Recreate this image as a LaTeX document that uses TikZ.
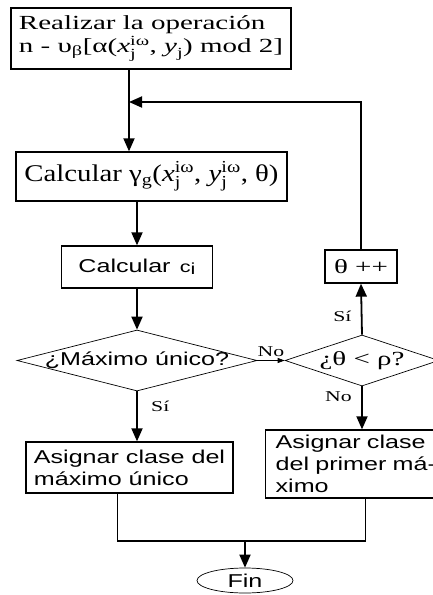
\documentclass[tikz,border=0pt]{standalone}
\usepackage{amsmath}
\usepackage{fontspec}
\newfontfamily\serifw{Liberation Serif}[FakeStretch=1.45]
\newfontfamily\serifm{Liberation Serif}[FakeStretch=1.2]
\newfontfamily\sansw{Liberation Sans}[FakeStretch=1.35]
\usetikzlibrary{arrows.meta,positioning,shapes.geometric}

\begin{document}
\begin{tikzpicture}[x=1pt,y=-1pt,>={Triangle[length=13pt,width=11pt]}]
  \tikzstyle{box}=[draw,line width=1.3pt,inner sep=0pt,align=left]
  \tikzstyle{cond}=[draw,diamond,line width=0.7pt,inner sep=-2pt]
  \tikzstyle{flow}=[->,line width=1.8pt]
  \tikzstyle{lbl}=[font=\fontsize{15}{15}\serifw]
  \useasboundingbox (0,0) rectangle (433,595);
  % bloques
  \node[box,minimum width=280pt,minimum height=61pt,font=\fontsize{20}{23}\serifw] (oper) at (151,38.5)
    {Realizar la operación\\n - υ$_{\text{β}}$[α($\textit{x}^{\text{iω}}_{\text{j}}$, $\textit{y}_{\text{j}}$) mod 2]};
  \node[box,minimum width=271pt,minimum height=49pt,font=\fontsize{24}{26}\serifm] (gamma) at (151.5,176.5)
    {Calcular γ$_{\text{g}}$($\textit{x}^{\text{iω}}_{\text{j}}$, $\textit{y}^{\text{iω}}_{\text{j}}$, θ)};
  \node[box,minimum width=151pt,minimum height=42pt,font=\fontsize{18.6}{20}\sansw] (calc) at (137,267)
    {Calcular\enspace{\fontsize{16}{16}\sansw c\raisebox{-1.5pt}{i}}};
  \node[box,minimum width=72pt,minimum height=33pt,font=\fontsize{20}{22}\serifw] (incr) at (361,266.5) {θ ++};
  \node[cond,aspect=3.93,minimum width=240pt,minimum height=61pt,font=\fontsize{18.6}{20}\sansw] (unico) at (137,360.5) {¿Máximo único?};
  \node[cond,aspect=3.02,minimum width=154pt,minimum height=51pt,font=\fontsize{20}{22}\serifw] (menor) at (362,360.5) {¿θ < ρ?};
  \node[box,minimum width=207pt,minimum height=51pt,font=\fontsize{18.6}{21.7}\sansw] (asigA) at (129.5,467.5)
    {Asignar clase del\\máximo único};
  \node[box,anchor=west,inner xsep=10pt,text width=170pt,minimum height=68pt,font=\fontsize{18.6}{21.7}\sansw] (asigB) at (265,464)
    {Asignar clase\\del primer má-\\ximo};
  \node[draw,ellipse,line width=0.7pt,inner sep=0pt,minimum width=96pt,minimum height=25pt,font=\fontsize{18.6}{20}\sansw] (fin) at (245,580.5) {Fin};
  \coordinate (back) at (129,102);
  \coordinate (join) at (245,541);
  % conexiones
  \draw[flow] (oper.south -| back) -- (gamma.north -| back);
  \draw[flow] (incr.north) |- (back);
  \draw[flow] (gamma.south -| calc) -- (calc);
  \draw[flow] (calc.south) -- (unico.north);
  \draw[flow] (unico.south) -- (unico.south |- asigA.north) node[lbl,pos=0.3,right=10pt] {Sí};
  \draw[->,line width=0.8pt,>={Triangle[length=7pt,width=5pt]}] (unico.east) -- (menor.west) node[lbl,midway,above] {No};
  \draw[flow] (menor.north) -- (incr.south) node[lbl,pos=0.35,left=6pt] {Sí};
  \draw[flow] (menor.south) -- (menor.south |- asigB.north) node[lbl,pos=0.25,left=6pt] {No};
  \draw[line width=1.6pt] ([xshift=-12pt]asigA.south) |- (join) -| ([xshift=5pt]asigB.south);
  \draw[flow] (join) -- (fin);
\end{tikzpicture}
\end{document}
